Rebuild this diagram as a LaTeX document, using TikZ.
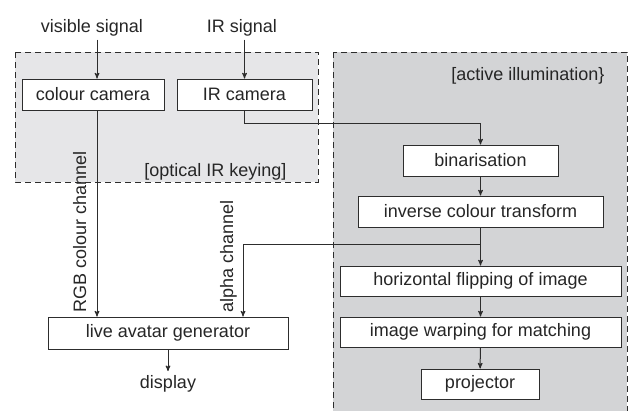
\documentclass[tikz,border=0pt]{standalone}
\usepackage{fontspec}
\setmainfont{Liberation Sans}
\usetikzlibrary{arrows,positioning}

\definecolor{keygray}{RGB}{230,230,232}
\definecolor{activegray}{RGB}{211,212,214}
\definecolor{linegray}{RGB}{45,45,45}

\begin{document}
\begin{tikzpicture}[->,>=stealth',x=1pt,y=-1pt,line width=1pt,draw=linegray,
  every node/.style={font=\fontsize{18}{21}\selectfont,text=black!85}]
  \tikzstyle{block}=[draw=linegray,fill=white,minimum height=31pt,inner sep=0pt]
  \tikzstyle{zone}=[draw=linegray,dash pattern=on 6pt off 4pt,-]
  \tikzstyle{caption}=[inner sep=0pt]

  \useasboundingbox (0,0) rectangle (628,410);
  \clip (0,0) rectangle (628,410);
  \path[zone,fill=keygray] (15,52) rectangle (318,182);
  \path[zone,fill=activegray] (333,52) rectangle (627,425);

  \node[block,minimum width=142pt] (colcam) at (93,94.5) {colour camera};
  \node[block,minimum width=135pt] (ircam)  at (244.5,94.5) {IR camera};
  \node[block,minimum width=155pt] (binar)  at (480.5,160.5) {binarisation};
  \node[block,minimum width=245pt] (invcol) at (480.5,211.5) {inverse colour transform};
  \node[block,minimum width=281pt,minimum height=30pt] (flip) at (480.5,281) {horizontal flipping of image};
  \node[block,minimum width=281pt,minimum height=30pt] (warp) at (480.5,332) {image warping for matching};
  \node[block,minimum width=118pt,minimum height=30pt] (proj) at (480,384) {projector};
  \node[block,minimum width=240pt,minimum height=32pt] (avatar) at (168,333) {live avatar generator};

  \node[anchor=base] (vissig)  at (92,32)  {visible signal};
  \node[anchor=base] (irsig)   at (242,32) {IR signal};
  \node[anchor=base] (display) at (168,388) {display};
  \node[caption,anchor=base east] (optlabel) at (287,176) {[optical IR keying]};
  \node[caption,anchor=base east] (actlabel) at (605,80) {[active illumination\}};
  \node[caption,anchor=base west,rotate=90] (rgblabel)   at (86,313)  {RGB colour channel};
  \node[caption,anchor=base west,rotate=90] (alphalabel) at (233,313) {alpha channel};

  \draw ([xshift=5pt]vissig.south) -- ([xshift=5pt]vissig.south |- colcam.north);
  \draw (irsig.south -| ircam.north) -- (ircam.north);
  \draw ([xshift=4pt]colcam.south) -- ([xshift=4pt]colcam.south |- avatar.north);
  \draw (ircam.south) -- ++(0,13) -| (binar.north);
  \draw (binar) -- (invcol);
  \draw (invcol) -- (flip);
  \path (invcol.south) ++(0,17) coordinate (split);
  \draw (split) -| ([xshift=75pt]avatar.north);
  \draw (flip) -- (warp);
  \draw (warp) -- (proj);
  \draw (avatar) -- (display);
\end{tikzpicture}
\end{document}
